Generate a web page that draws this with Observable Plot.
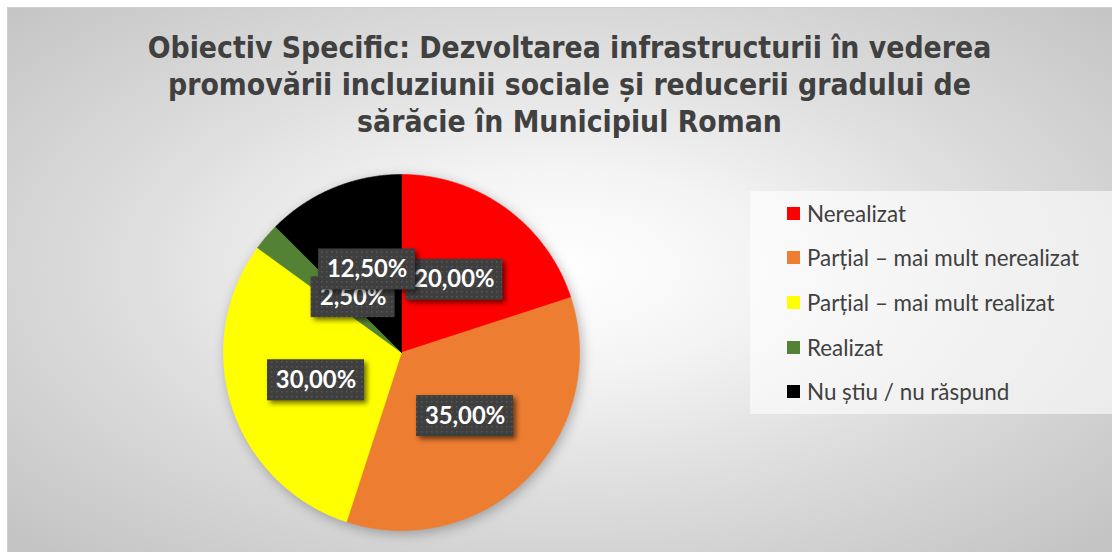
<!DOCTYPE html>
<html>
<head>
<meta charset="utf-8">
<script src="https://cdn.jsdelivr.net/npm/d3@7"></script>
<script src="https://cdn.jsdelivr.net/npm/@observablehq/plot@0.6"></script>
<style>
  html, body { margin: 0; padding: 0; background: #fff; }
  #wrap { position: relative; width: 1112px; height: 552px; overflow: hidden; }
  #bg { position: absolute; left: 8px; top: 8px; width: 1104px; height: 544px;
        background: radial-gradient(ellipse farthest-corner at 50% 48%, #ffffff 0%, #f4f4f4 25%, #dedede 55%, #c2c2c2 100%);
        box-shadow: 0 0 0 1px #d0d0d0; }
  #title { position: absolute; left: 0; width: 1139px; top: 29px; text-align: center;
           font-family: "DejaVu Sans Condensed", "DejaVu Sans", sans-serif; font-weight: bold;
           font-size: 29.8px; line-height: 37px; color: #404040; }
  #legend { position: absolute; left: 750px; top: 191px; width: 362px; height: 223px;
            background: rgba(255,255,255,0.6); font-family: Lato, "Open Sans", sans-serif; font-size: 22.4px; color: #404040; }
  .item { position: absolute; left: 37px; height: 26px; display: flex; align-items: center; white-space: nowrap; }
  .sw { width: 13px; height: 13px; margin-right: 7px; }
  #plot { position: absolute; left: 0; top: 0; }
</style>
</head>
<body>
<svg width="0" height="0" style="position:absolute">
  <defs>
    <pattern id="dots" width="5" height="5" patternUnits="userSpaceOnUse">
      <rect width="5" height="5" fill="#3f3f3f"></rect>
      <rect x="1" y="1" width="1.5" height="1.5" fill="#565656"></rect>
    </pattern>
  </defs>
</svg>
<div id="wrap">
  <div id="bg"></div>
  <div id="title"></div>
  <div id="legend"></div>
  <div id="plot"></div>
</div>
<script>
const titleLines = [
  "Obiectiv Specific: Dezvoltarea infrastructurii în vederea",
  "promovării incluziunii sociale și reducerii gradului de",
  "sărăcie în Municipiul Roman"
];
const categories = [
  "Nerealizat",
  "Parțial – mai mult nerealizat",
  "Parțial – mai mult realizat",
  "Realizat",
  "Nu știu / nu răspund"
];
const values = [20, 35, 30, 2.5, 12.5];
const colors = ["#ff0000", "#ed7d31", "#ffff00", "#548235", "#000000"];

document.getElementById("title").innerHTML = titleLines.map(t => `<div>${t}</div>`).join("");

const legend = document.getElementById("legend");
categories.forEach((c, i) => {
  const el = document.createElement("div");
  el.className = "item";
  el.style.top = (9 + i * 44.7) + "px";
  el.innerHTML = `<span class="sw" style="background:${colors[i]}"></span><span>${c}</span>`;
  legend.appendChild(el);
});

// geometry
const cx = 401, cy = 352, R = 178;
const total = d3.sum(values);
let acc = 0;
const slices = values.map((v, i) => {
  const a0 = acc / total * 2 * Math.PI;
  acc += v;
  const a1 = acc / total * 2 * Math.PI;
  return {cat: categories[i], value: v, a0, a1, i};
});

const piePts = slices.flatMap(s => {
  const n = Math.max(2, Math.ceil((s.a1 - s.a0) / (Math.PI / 360)));
  const pts = [{cat: s.cat, x: 0, y: 0}];
  for (let k = 0; k <= n; k++) {
    const a = s.a0 + (s.a1 - s.a0) * k / n;
    pts.push({cat: s.cat, x: Math.sin(a), y: Math.cos(a)});
  }
  pts.push({cat: s.cat, x: 0, y: 0});
  return pts;
});

const fmt = v => v.toFixed(2).replace(".", ",") + "%";
const labelR = 0.505;
const px = 1 / R; // data units per pixel
const labels = slices.map(s => {
  const m = (s.a0 + s.a1) / 2;
  const nudge = s.value < 5 ? 20 * px : 0; // Excel pushes the tiny-slice label inward
  const text = fmt(s.value);
  const w = (19 + 13 * text.length) * px;
  const h = 41 * px;
  const x = labelR * Math.sin(m) + nudge;
  const y = labelR * Math.cos(m) - (s.value < 5 ? 3 * px : 0);
  return {text, x, y, x1: x - w / 2, x2: x + w / 2, y1: y - h / 2, y2: y + h / 2};
});

const labelMarks = labels.flatMap(l => [
  Plot.rect([l], {x1: "x1", x2: "x2", y1: "y1", y2: "y2", fill: "url(#dots)"}),
  Plot.text([l], {x: "x", y: "y", text: "text", fill: "white", fontSize: 23.8, fontWeight: "bold",
    fontFamily: "Lato, 'Open Sans', sans-serif"})
]);

const chart = Plot.plot({
  width: 1112,
  height: 552,
  margin: 0,
  style: {background: "transparent", overflow: "visible"},
  x: {type: "linear", domain: [-1, 1], range: [cx - R, cx + R], axis: null},
  y: {type: "linear", domain: [-1, 1], range: [cy + R, cy - R], axis: null},
  color: {type: "ordinal", domain: categories, range: colors},
  marks: [
    Plot.line(piePts, {x: "x", y: "y", z: "cat", fill: "cat", stroke: "cat", strokeWidth: 0.6, curve: "linear"}),
    ...labelMarks
  ]
});
document.getElementById("plot").appendChild(chart);

d3.select(chart).selectAll("g[aria-label=line]").style("filter", "drop-shadow(2px 3px 6px rgba(0,0,0,0.28))");
d3.select(chart).selectAll("g[aria-label=rect]").style("filter", "drop-shadow(3px 3px 2.5px rgba(0,0,0,0.55))");
</script>
</body>
</html>
